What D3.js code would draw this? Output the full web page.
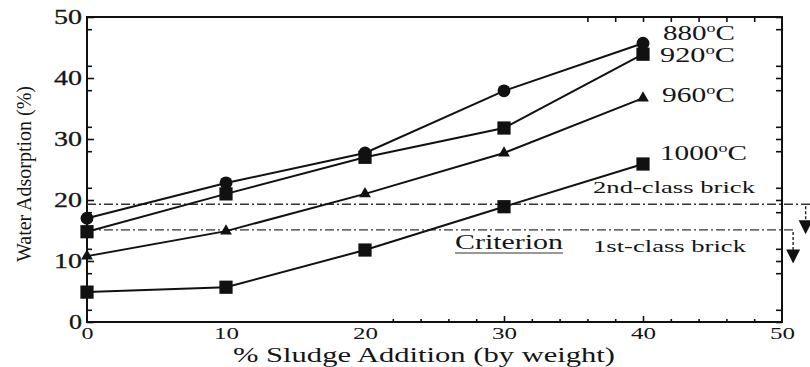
<!DOCTYPE html>
<html>
<head>
<meta charset="utf-8">
<script src="https://cdn.jsdelivr.net/npm/d3@7"></script>
<style>
  body { margin: 0; background: #fff; }
</style>
</head>
<body>
<svg id="chart" width="810" height="367"></svg>
<script>
// values
const sludge = [0, 10, 20, 30, 40];
const t880 = [17.0, 22.8, 27.7, 37.9, 45.7];
const t920 = [14.8, 21.0, 27.0, 31.8, 43.9];
const t960 = [10.8, 14.9, 21.0, 27.7, 36.7];
const t1000 = [4.9, 5.7, 11.8, 18.9, 25.9];
const tempLabels = ["880", "920", "960", "1000"];
const markerTypes = ["circle", "square", "triangle", "square"];
const xTicks = [0, 10, 20, 30, 40, 50];
const yTicks = [0, 10, 20, 30, 40, 50];
const criteriaValues = [19.3, 15.1];
const criteriaLabels = ["2nd-class brick", "1st-class brick"];

const SERIF = "'Liberation Serif'";

const svg = d3.select("#chart");
const margin = { left: 87, top: 17, right: 28, bottom: 45 };
const W = 810, H = 367;

const x = d3.scaleLinear().domain([0, 50]).range([margin.left, W - margin.right]);
const y = d3.scaleLinear().domain([0, 50]).range([H - margin.bottom, margin.top]);

// minor ticks, as they show up in the scan
const yMinor = d3.range(0, 51, 2).filter(v => v % 10 === 2 || v % 10 === 8);
const xMinor = d3.range(22, 50, 2).filter(v => v % 10 !== 0);

const g = svg.append("g");

// frame
g.append("rect")
  .attr("x", x(0)).attr("y", y(50))
  .attr("width", x(50) - x(0)).attr("height", y(0) - y(50))
  .attr("fill", "none").attr("stroke", "#111").attr("stroke-width", 2);

function styleAxis(sel) {
  sel.select(".domain").remove();
  sel.selectAll("line").attr("stroke", "#111").attr("stroke-width", 1.6);
  sel.selectAll("text").style("font-family", SERIF).attr("fill", "#151515");
}

// left axis
g.append("g").attr("transform", `translate(${x(0)},0)`)
  .call(d3.axisLeft(y).tickValues(yTicks).tickSize(-7).tickPadding(5))
  .call(styleAxis)
  .selectAll("text").attr("font-size", 20)
  .attr("textLength", d => d === 0 ? 13 : 28).attr("lengthAdjust", "spacingAndGlyphs")
  .attr("stroke", "#151515").attr("stroke-width", 0.3);
g.append("g").attr("transform", `translate(${x(0)},0)`)
  .call(d3.axisLeft(y).tickValues(yMinor).tickSize(-5).tickFormat(""))
  .call(styleAxis);

// right axis
g.append("g").attr("transform", `translate(${x(50)},0)`)
  .call(d3.axisRight(y).tickValues(yTicks.concat(yMinor)).tickSize(-6).tickFormat(""))
  .call(styleAxis);

// bottom axis
g.append("g").attr("transform", `translate(0,${y(0)})`)
  .call(d3.axisBottom(x).tickValues(xTicks).tickSize(0).tickPadding(5))
  .call(styleAxis)
  .selectAll("text").attr("font-size", 17)
  .attr("textLength", d => d === 0 ? 12 : 25).attr("lengthAdjust", "spacingAndGlyphs");
g.append("g").attr("transform", `translate(0,${y(0)})`)
  .call(d3.axisBottom(x).tickValues(xMinor).tickSize(-3).tickFormat(""))
  .call(styleAxis);
g.append("g").attr("transform", `translate(0,${y(0)})`)
  .call(d3.axisBottom(x).tickValues([30, 40]).tickSize(-6).tickFormat(""))
  .call(styleAxis);

// top axis
g.append("g").attr("transform", `translate(0,${y(50)})`)
  .call(d3.axisTop(x).tickValues(d3.range(36, 50, 2)).tickSize(-5).tickFormat(""))
  .call(styleAxis);

// criterion lines (dash-dot), running past the frame
criteriaValues.forEach((v, i) => {
  g.append("line")
    .attr("x1", x(0)).attr("x2", i === 0 ? W : x(50) + 12)
    .attr("y1", y(v)).attr("y2", y(v))
    .attr("stroke", "#333").attr("stroke-width", 1.3)
    .attr("stroke-dasharray", "9,3,2,3");
});

// arrows showing "below" the criterion
const arrowX = [51.7, 50.8];
const arrowEnd = [14.4, 9.6];
criteriaValues.forEach((v, i) => {
  const ax = x(arrowX[i]);
  const tip = y(arrowEnd[i]);
  g.append("line")
    .attr("x1", ax).attr("x2", ax)
    .attr("y1", y(v) + 2).attr("y2", tip - 12)
    .attr("stroke", "#222").attr("stroke-width", 1.4)
    .attr("stroke-dasharray", "3,2");
  g.append("path")
    .attr("d", `M${ax - 7},${tip - 14}L${ax + 7},${tip - 14}L${ax},${tip}Z`)
    .attr("fill", "#111");
});

// series
const series = [t880, t920, t960, t1000].map((vals, i) => ({
  name: tempLabels[i],
  marker: markerTypes[i],
  points: sludge.map((s, j) => ({ x: s, y: vals[j] }))
}));

const line = d3.line().x(d => x(d.x)).y(d => y(d.y));

g.selectAll(".series")
  .data(series)
  .join("path")
  .attr("class", "series")
  .attr("d", d => line(d.points))
  .attr("fill", "none").attr("stroke", "#111").attr("stroke-width", 2);

const symbolOf = {
  circle: d3.symbol(d3.symbolCircle, 130),
  square: d3.symbol(d3.symbolSquare, 175),
  triangle: d3.symbol(d3.symbolTriangle, 60)
};

series.forEach(s => {
  g.selectAll(null)
    .data(s.points)
    .join("path")
    .attr("transform", d => `translate(${x(d.x)},${y(d.y)})`)
    .attr("d", symbolOf[s.marker]())
    .attr("fill", "#111");
});

// temperature labels
const tempPos = [[663, 40], [660, 62], [662, 102], [660, 160]];
const tempWidth = [72, 75, 73, 87];
series.forEach((s, i) => {
  const t = g.append("text")
    .attr("x", tempPos[i][0]).attr("y", tempPos[i][1])
    .style("font-family", SERIF).attr("fill", "#151515")
    .attr("font-size", 21)
    .attr("textLength", tempWidth[i]).attr("lengthAdjust", "spacingAndGlyphs");
  t.append("tspan").text(s.name);
  t.append("tspan").attr("font-size", 13).attr("dy", -8).text("o");
  t.append("tspan").attr("dy", 8).text("C");
});

// criterion labels
const critLabelPos = [[593, 193], [593, 252]];
criteriaLabels.forEach((lab, i) => {
  g.append("text")
    .attr("x", critLabelPos[i][0]).attr("y", critLabelPos[i][1])
    .style("font-family", SERIF).attr("fill", "#151515")
    .attr("font-size", 17)
    .attr("textLength", i === 0 ? 162 : 153).attr("lengthAdjust", "spacingAndGlyphs")
    .text(lab);
});

g.append("text")
  .attr("x", 455).attr("y", 249)
  .style("font-family", SERIF).attr("fill", "#151515")
  .attr("font-size", 20).attr("textLength", 108).attr("lengthAdjust", "spacingAndGlyphs")
  .text("Criterion");
g.append("line")
  .attr("x1", 455).attr("x2", 563).attr("y1", 253).attr("y2", 253)
  .attr("stroke", "#777").attr("stroke-width", 1.5);

// axis titles
svg.append("text")
  .attr("x", 233).attr("y", 362)
  .style("font-family", SERIF).attr("fill", "#151515")
  .attr("font-size", 20).attr("textLength", 382).attr("lengthAdjust", "spacingAndGlyphs")
  .text("% Sludge Addition (by weight)");

svg.append("text")
  .attr("transform", "translate(31,174) rotate(-90)")
  .attr("text-anchor", "middle")
  .style("font-family", SERIF).attr("fill", "#151515")
  .attr("font-size", 21)
  .attr("textLength", 176).attr("lengthAdjust", "spacingAndGlyphs")
  .text("Water Adsorption (%)");
</script>
</body>
</html>
